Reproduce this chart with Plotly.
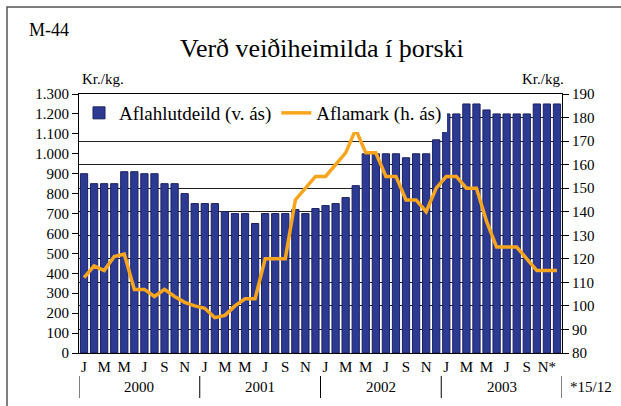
import plotly.graph_objects as go

# monthly data, Jan 2000 - Dec 2003
share_price = [900, 850, 850, 850, 910, 910, 900, 900, 850, 850, 800, 750,
               750, 750, 710, 700, 700, 650, 700, 700, 700, 720, 700, 725,
               740, 750, 780, 840, 1000, 1000, 1000, 1000, 980, 1000, 1000, 1070,
               1200, 1200, 1250, 1250, 1220, 1200, 1200, 1200, 1200, 1250, 1250, 1250]
quota_price = [112, 117, 115, 121, 122, 107, 107, 104, 107, 104, 101.5, 100,
               99, 95, 96, 100, 103, 103, 120, 120, 120, 145, 150, 155,
               155, 160, 165, 175, 165, 165, 155, 155, 145, 145, 140, 150,
               155, 155, 150, 150, 136, 125, 125, 125, 120, 115, 115, 115]
month_labels = ['J', 'M', 'M', 'J', 'S', 'N'] * 3 + ['J', 'M', 'M', 'J', 'S', 'N*']
years = ['2000', '2001', '2002', '2003']
left_ticks = list(range(0, 1301, 100))
left_labels = ['{:,}'.format(v).replace(',', '.') for v in left_ticks]
right_ticks = list(range(80, 191, 10))

serif = 'Liberation Serif, Times New Roman, serif'
x = list(range(len(share_price)))

bars = go.Bar(
    x=x, y=share_price, name='Aflahlutdeild (v. ás)',
    marker=dict(color='#2D3A92', line=dict(color='#1A2060', width=1)),
    yaxis='y')
line = go.Scatter(
    x=x, y=quota_price, name='Aflamark (h. ás)', mode='lines',
    line=dict(color='#F8A51E', width=3.5),
    yaxis='y2')

fig = go.Figure(data=[bars, line])

# pixel helpers for placing texts
W, H = 621, 406
L, R, T, B = 79, 59, 94, 53
pw, ph = W - L - R, H - T - B


def px(xp):
    return (xp - L) / pw


def py(yp):
    return (H - B - yp) / ph


ann = []
ann.append(dict(text='M-44', x=px(27), y=py(30), xanchor='left', yanchor='middle',
                font=dict(size=18)))
ann.append(dict(text='Verð veiðiheimilda í þorski', x=px(322), y=py(49),
                xanchor='center', yanchor='middle', font=dict(size=26)))
ann.append(dict(text='Kr./kg.', x=px(80), y=py(79), xanchor='left', yanchor='middle',
                font=dict(size=15)))
ann.append(dict(text='Kr./kg.', x=px(566), y=py(79), xanchor='right', yanchor='middle',
                font=dict(size=15)))
for i, yr in enumerate(years):
    ann.append(dict(text=yr, x=12 * i + 5.5, xref='x', y=py(387), xanchor='center',
                    yanchor='middle', font=dict(size=15)))
ann.append(dict(text='*15/12', x=px(568), y=py(387), xanchor='left', yanchor='middle',
                font=dict(size=15)))
for a in ann:
    a.setdefault('xref', 'paper')
    a['yref'] = 'paper'
    a['showarrow'] = False

shapes = []
for i in range(len(years) + 1):
    shapes.append(dict(type='line', xref='x', yref='paper', x0=12 * i - 0.5, x1=12 * i - 0.5,
                       y0=py(376), y1=py(398), line=dict(color='black', width=1)))
# outer frame
shapes.append(dict(type='rect', xref='paper', yref='paper', x0=px(7), x1=px(630),
                   y0=py(420), y1=py(7), line=dict(color='#555555', width=1.5)))

fig.update_layout(
    width=W, height=H,
    margin=dict(l=L, r=R, t=T, b=B),
    paper_bgcolor='white', plot_bgcolor='white',
    font=dict(family=serif, color='black', size=15),
    bargap=0.28,
    showlegend=True,
    legend=dict(orientation='h', x=0.0, y=1.0, xanchor='left', yanchor='top',
                bgcolor='white', font=dict(size=19), itemwidth=30,
                tracegroupgap=0, traceorder='normal'),
    xaxis=dict(range=[-0.5, 47.5], tickvals=list(range(0, 48, 2)), ticktext=month_labels,
               showline=True, linecolor='black', linewidth=1, mirror=True,
               ticks='', showgrid=False, tickfont=dict(size=15), zeroline=False),
    yaxis=dict(range=[0, 1300], tickvals=left_ticks, ticktext=left_labels,
               showline=True, linecolor='black', linewidth=1, ticks='outside',
               ticklen=6, tickcolor='black', showgrid=False, zeroline=False,
               tickfont=dict(size=15)),
    yaxis2=dict(range=[80, 190], tickvals=right_ticks, overlaying='y', side='right',
                showline=True, linecolor='black', linewidth=1, ticks='outside',
                ticklen=6, tickcolor='black', showgrid=True, gridcolor='#222222',
                gridwidth=1, zeroline=False, tickfont=dict(size=15)),
    annotations=ann,
    shapes=shapes,
)

fig.write_html('out.html', config={'displayModeBar': False},
               post_script="document.body.style.margin='0';")
